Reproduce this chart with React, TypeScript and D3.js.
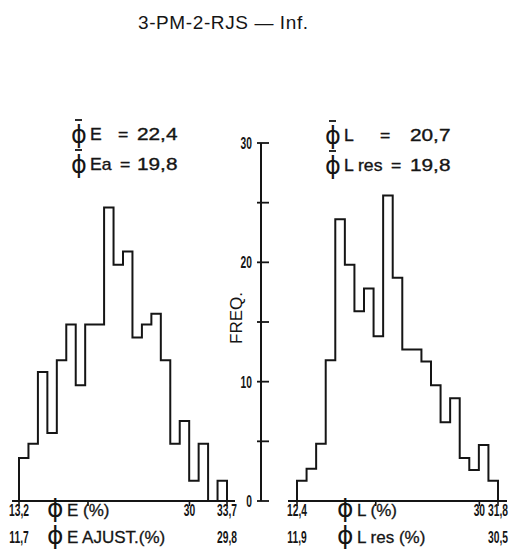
import React from 'react';
import * as d3 from 'd3';

// frequencies
const leftFreq = [3.6, 4.8, 10.8, 5.7, 11.8, 14.8, 9.7, 14.8, 14.8, 24.6, 19.8, 20.9, 13.7, 14.8, 15.7, 11.8, 4.8, 6.7, 1.7, 4.8, 0, 1.7];
const rightFreq = [1.7, 2.7, 4.8, 11.8, 23.6, 19.8, 15.9, 17.8, 13.8, 25.6, 18.7, 12.7, 12.7, 11.7, 9.7, 6.6, 8.6, 3.6, 2.6, 4.7, 1.7];

const leftRange = [13.2, 33.7];
const rightRange = [12.4, 31.8];

const leftTicks = [13.2, 20, 30, 33.7];
const leftTickLabels = ['13,2', '', '30', '33,7'];
const leftAdjLabels = ['11,7', '', '', '29,8'];

const rightTicks = [12.4, 20, 30, 31.8];
const rightTickLabels = ['12,4', '', '30', '31,8'];
const rightAdjLabels = ['11,9', '', '', '30,5'];

const freqTicks = [0, 5, 10, 15, 20, 25, 30];
const freqLabels = ['0', '', '10', '', '20', '', '30'];

const title = '3-PM-2-RJS \u2014 Inf.';
const PHI = '\u03D5';

const INK = '#151515';
const FONT = '"Liberation Sans", Arial, "DejaVu Sans", sans-serif';
const PHI_FONT = '"DejaVu Sans", sans-serif';

// condensed digits like the hand-lettered originals
const Narrow = ({ x, y, anchor = 'middle', size = 16, children }: any) => (
    <text transform={`translate(${x},${y}) scale(0.64,1)`} textAnchor={anchor}
        fontFamily={FONT} fontSize={size} fontWeight="bold" fill={INK}>{children}</text>
);

const Wide = ({ x, y, size = 16, sx = 1.25, children }: any) => (
    <text transform={`translate(${x},${y}) scale(${sx},1)`} fontFamily={FONT} fontSize={size} fill={INK}
        stroke={INK} strokeWidth={0.35}>{children}</text>
);

const yScale = d3.scaleLinear().domain([0, 30]).range([501, 143]);

const stepPath = (freq: number[], x: d3.ScaleLinear<number, number>) => {
    const [d0, d1] = x.domain();
    const w = (d1 - d0) / freq.length;
    const pts: [number, number][] = [[x(d0), yScale(0)]];
    freq.forEach((f, i) => {
        pts.push([x(d0 + i * w), yScale(f)]);
        pts.push([x(d0 + (i + 1) * w), yScale(f)]);
    });
    pts.push([x(d1), yScale(0)]);
    return d3.line()(pts) || '';
};

const AxisName = ({ x, y, name }: any) => (
    <g fill={INK}>
        <text x={x - 5} y={y + 1} fontFamily={PHI_FONT} fontSize={25}>{PHI}</text>
        <text x={x + 15} y={y} fontFamily={FONT} fontSize={17} stroke={INK} strokeWidth={0.3}>{name}</text>
    </g>
);

const Histogram = ({ freq, x, ticks, tickLabels, adjLabels, axisFrom, axisTo, unitX, unit, adjUnit }: any) => {
    const base = yScale(0);
    return (
        <g>
            <line x1={axisFrom} x2={axisTo} y1={base} y2={base} stroke={INK} strokeWidth={2} />
            {ticks.map((t: number, i: number) => (
                <g key={i}>
                    <line x1={x(t)} x2={x(t)} y1={base - 1} y2={base + 5} stroke={INK} strokeWidth={1.6} />
                    {tickLabels[i] && <Narrow x={x(t)} y={base + 15}>{tickLabels[i]}</Narrow>}
                    {adjLabels[i] && <Narrow x={x(t)} y={base + 42}>{adjLabels[i]}</Narrow>}
                </g>
            ))}
            <path d={stepPath(freq, x)} fill="none" stroke={INK} strokeWidth={2} strokeLinejoin="miter" />
            <AxisName x={unitX} y={base + 15} name={unit} />
            <AxisName x={unitX} y={base + 42} name={adjUnit} />
        </g>
    );
};

const Stat = ({ x, eqX, valX, y, label, value }: any) => (
    <g>
        <text x={x - 1} y={y + 3} fontFamily={PHI_FONT} fontSize={24} fill={INK}>{PHI}</text>
        <line x1={x + 3} x2={x + 10} y1={y - 20} y2={y - 20} stroke={INK} strokeWidth={1.8} />
        <Wide x={x + 18} y={y} sx={1.1}>{label}</Wide>
        <Wide x={eqX} y={y} sx={1.1}>=</Wide>
        <Wide x={valX} y={y} sx={1.3}>{value}</Wide>
    </g>
);

export default function App() {
    const xLeft = d3.scaleLinear().domain(leftRange).range([19, 227]);
    const xRight = d3.scaleLinear().domain(rightRange).range([297, 498]);
    const axisX = 261;

    return (
        <svg width={510} height={553} style={{ position: 'absolute', left: 0, top: 0, background: '#fff' }}>
            <rect width={510} height={553} fill="#fff" />
            <text x={138} y={29} fontFamily={FONT} fontSize={19} fill={INK} letterSpacing={0.6}>{title}</text>

            <Stat x={72} eqX={118} valX={137} y={140} label="E" value="22,4" />
            <Stat x={72} eqX={120} valX={137} y={170} label="Ea" value="19,8" />
            <Stat x={326} eqX={380} valX={410} y={141} label="L" value="20,7" />
            <Stat x={326} eqX={391} valX={410} y={171} label="L res" value="19,8" />

            {/* frequency axis between the two panels */}
            <line x1={axisX} x2={axisX} y1={yScale(30)} y2={yScale(0)} stroke={INK} strokeWidth={2} />
            {freqTicks.map((t, i) => (
                <g key={t}>
                    <line x1={axisX - 4} x2={axisX + 8} y1={yScale(t)} y2={yScale(t)} stroke={INK} strokeWidth={1.8} />
                    {freqLabels[i] && <Narrow x={252} y={yScale(t) + 6} anchor="end">{freqLabels[i]}</Narrow>}
                </g>
            ))}
            <text transform={`translate(242,318) rotate(-90)`} textAnchor="middle" fontFamily={FONT}
                fontSize={17} fill={INK}>FREQ.</text>

            <Histogram freq={leftFreq} x={xLeft} ticks={leftTicks} tickLabels={leftTickLabels}
                adjLabels={leftAdjLabels} axisFrom={12} axisTo={235} unitX={52}
                unit="E (%)" adjUnit="E AJUST.(%)" />
            <Histogram freq={rightFreq} x={xRight} ticks={rightTicks} tickLabels={rightTickLabels}
                adjLabels={rightAdjLabels} axisFrom={288} axisTo={507} unitX={342}
                unit="L (%)" adjUnit="L res (%)" />
        </svg>
    );
}
